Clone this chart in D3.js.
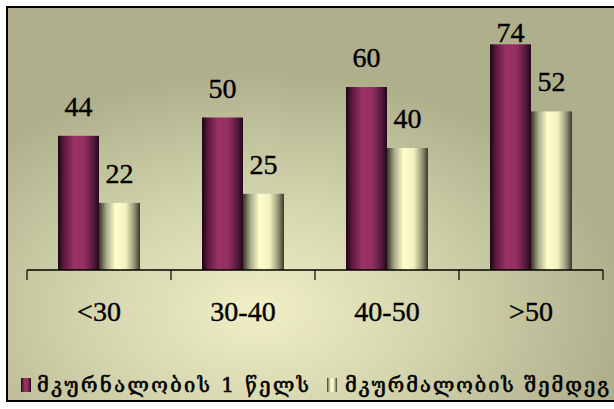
<!DOCTYPE html>
<html>
<head>
<meta charset="utf-8">
<script src="https://cdn.jsdelivr.net/npm/d3@7"></script>
<style>
  html, body { margin: 0; padding: 0; background: #ffffff; }
  svg { display: block; }
  .num { font-family: "Liberation Serif", "Times New Roman", serif; font-size: 28px; fill: #000; stroke: #000; stroke-width: 0.4px; }
  .leg { font-family: "DejaVu Serif", serif; font-size: 20px; fill: #000; stroke: #000; stroke-width: 0.6px; }
</style>
</head>
<body>
<svg id="chart" width="614" height="409"></svg>
<script>
// Age groups and the two measurement series
const categories = ["<30", "30-40", "40-50", ">50"];
const seriesNames = ["მკურნალობის 1 წელს", "მკურმალობის შემდეგ"];
const firstYear = [44, 50, 60, 74];
const afterTreatment = [22, 25, 40, 52];

const svg = d3.select("#chart");
const W = 614, H = 409;

const defs = svg.append("defs");

// Panel background: soft light glow around the lower middle, olive toward the edges
const bg = defs.append("radialGradient")
  .attr("id", "bgGrad")
  .attr("gradientUnits", "userSpaceOnUse")
  .attr("cx", 260).attr("cy", 310).attr("r", 330)
  .attr("gradientTransform", "translate(260,310) scale(1.1,0.72) translate(-260,-310)");
bg.append("stop").attr("offset", "0%").attr("stop-color", "#f0efc6");
bg.append("stop").attr("offset", "50%").attr("stop-color", "#d2d2ac");
bg.append("stop").attr("offset", "100%").attr("stop-color", "#afaf8c");

// Cylinder-like horizontal shading for each series
function barGradient(id, stops) {
  const g = defs.append("linearGradient").attr("id", id)
    .attr("x1", "0%").attr("x2", "100%").attr("y1", "0%").attr("y2", "0%");
  stops.forEach(([o, c]) => g.append("stop").attr("offset", o).attr("stop-color", c));
}
barGradient("gradA", [["0%", "#1a0611"], ["15%", "#5e1a40"], ["40%", "#9c3268"], ["65%", "#922e62"], ["85%", "#5a1a3e"], ["100%", "#22081a"]]);
barGradient("gradB", [["0%", "#34342a"], ["18%", "#a8a888"], ["40%", "#fdfdcc"], ["65%", "#f2f2c0"], ["85%", "#9a9a7c"], ["100%", "#3a3a2c"]]);

// Background panel with frame
svg.append("rect").attr("x", 0).attr("y", 0).attr("width", W).attr("height", H).attr("fill", "#ffffff");
svg.append("rect")
  .attr("x", 7).attr("y", 7).attr("width", W + 10).attr("height", 394)
  .attr("fill", "url(#bgGrad)")
  .attr("stroke", "#000").attr("stroke-width", 2);

// Scales
const x0 = d3.scaleBand().domain(categories).range([27, 603]).paddingInner(0).paddingOuter(0);
const x1 = d3.scaleBand().domain([0, 1]).range([31, 113]).padding(0);
const y = d3.scaleLinear().domain([0, 80]).range([270, 26]);

const rows = categories.map((c, i) => ({ cat: c, vals: [firstYear[i], afterTreatment[i]] }));

const groups = svg.append("g").selectAll("g").data(rows).join("g")
  .attr("transform", d => `translate(${x0(d.cat)},0)`);

groups.selectAll("rect").data(d => d.vals.map((v, k) => ({ v, k }))).join("rect")
  .attr("x", d => x1(d.k))
  .attr("y", d => y(d.v))
  .attr("width", x1.bandwidth())
  .attr("height", d => y(0) - y(d.v))
  .attr("fill", d => d.k === 0 ? "url(#gradA)" : "url(#gradB)");

// Value labels sit above each bar, kept inside the plot area at the top
groups.selectAll("text.num").data(d => d.vals.map((v, k) => ({ v, k }))).join("text")
  .attr("class", "num")
  .attr("x", d => x1(d.k) + x1.bandwidth() / 2)
  .attr("y", d => Math.max(y(d.v) - 20, 42))
  .attr("text-anchor", "middle")
  .text(d => d.v);

// Category axis with outer ticks
const axis = svg.append("g").attr("transform", `translate(0,${y(0)})`)
  .call(d3.axisBottom(x0).tickSize(0).tickPadding(0));
axis.select(".domain").remove();
axis.selectAll("text").remove();

const tickPos = categories.map(c => x0(c)).concat([x0.range()[1]]);
axis.append("line")
  .attr("x1", x0.range()[0]).attr("x2", x0.range()[1])
  .attr("y1", 0).attr("y2", 0)
  .attr("stroke", "#000").attr("stroke-width", 1.5);
axis.selectAll("line.tk").data(tickPos).join("line")
  .attr("class", "tk")
  .attr("x1", d => d).attr("x2", d => d)
  .attr("y1", 0).attr("y2", 10)
  .attr("stroke", "#000").attr("stroke-width", 1.2);

axis.selectAll("text.num").data(categories).join("text")
  .attr("class", "num")
  .attr("x", d => x0(d) + x0.bandwidth() / 2)
  .attr("y", 51)
  .attr("text-anchor", "middle")
  .text(d => d);

// Legend
const legendItems = [
  { name: seriesNames[0], fill: "url(#gradA)", sx: 21, tx: 37, len: 272 },
  { name: seriesNames[1], fill: "url(#gradB)", sx: 327, tx: 345, len: 264 }
];
const legend = svg.append("g");
legend.selectAll("rect").data(legendItems).join("rect")
  .attr("x", d => d.sx).attr("y", 378)
  .attr("width", 10).attr("height", 14)
  .attr("fill", d => d.fill);
legend.selectAll("text").data(legendItems).join("text")
  .attr("class", "leg")
  .attr("x", d => d.tx).attr("y", 392)
  .attr("textLength", d => d.len)
  .attr("lengthAdjust", "spacing")
  .text(d => d.name);
</script>
</body>
</html>
